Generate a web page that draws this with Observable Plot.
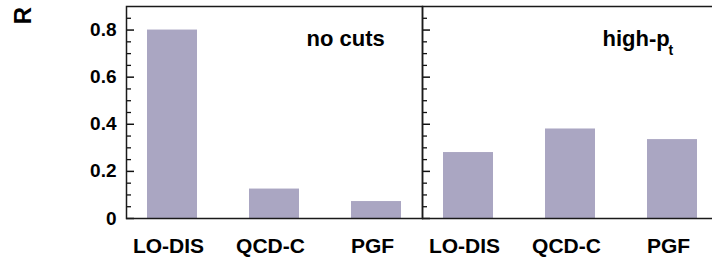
<!DOCTYPE html>
<html>
<head>
<meta charset="utf-8">
<script src="https://cdn.jsdelivr.net/npm/d3@7"></script>
<script src="https://cdn.jsdelivr.net/npm/@observablehq/plot@0.6"></script>
<style>
  html, body { margin: 0; padding: 0; background: #fff; overflow: hidden; }
  #wrap { width: 712px; height: 258px; overflow: hidden; }
  #wrap svg { max-width: none !important; }
</style>
</head>
<body>
<div id="wrap"></div>
<script>
const panels = ["no cuts", "high-pt"];
const processes = ["LO-DIS", "QCD-C", "PGF"];
const rNoCuts = [0.80, 0.125, 0.072];
const rHighPt = [0.28, 0.38, 0.335];
const panelTitles = ["no cuts", "high-p"];
const panelSubscripts = ["", "t"];
const yMajorTicks = [0, 0.2, 0.4, 0.6, 0.8];
const yMinorTicks = [0.05, 0.1, 0.15, 0.25, 0.3, 0.35, 0.45, 0.5, 0.55, 0.65, 0.7, 0.75, 0.85];
const yLabel = "R";

const bars = [];
processes.forEach((p, i) => bars.push({panel: panels[0], process: p, R: rNoCuts[i]}));
processes.forEach((p, i) => bars.push({panel: panels[1], process: p, R: rHighPt[i]}));
const titles = panels.map((p, i) => ({panel: p, title: panelTitles[i], sub: panelSubscripts[i]}));

const font = "'Liberation Sans', Arial, Helvetica, sans-serif";
const facetW = 296;

const chart = Plot.plot({
  width: 718,
  height: 258,
  marginLeft: 126,
  marginRight: 0,
  marginTop: 6,
  marginBottom: 40,
  style: {fontFamily: font, fontWeight: "bold", background: "#fff", color: "#000", maxWidth: "none"},
  fx: {domain: panels, padding: 0, axis: null, label: null},
  x: {domain: processes, paddingInner: 0.51, paddingOuter: 0.2, axis: null, label: null},
  y: {domain: [0, 0.9], axis: null, label: null},
  marks: [
    Plot.barY(bars, {fx: "panel", x: "process", y: "R", fill: "#aaa6c2"}),
    Plot.tickY(yMajorTicks, {y: d => d, insetRight: facetW - 8, stroke: "#111", strokeWidth: 1.5}),
    Plot.tickY(yMinorTicks, {y: d => d, insetRight: facetW - 5, stroke: "#111", strokeWidth: 1.3}),
    Plot.frame({stroke: "#1a1a1a", strokeWidth: 1.5}),
    Plot.axisY({ticks: yMajorTicks, tickSize: 0, tickPadding: 10, tickFormat: d => String(d), label: null, fontSize: 19, fontWeight: "bold"}),
    Plot.axisX({tickSize: 0, tickPadding: 20, label: null, fontSize: 21, fontWeight: "bold", dx: -4}),
    Plot.text(titles, {fx: "panel", text: "title", frameAnchor: "top-left", textAnchor: "start", lineAnchor: "middle", dx: 180, dy: 32, fontSize: 22, fontWeight: "bold"}),
    Plot.text(titles, {fx: "panel", text: "sub", frameAnchor: "top-left", textAnchor: "start", lineAnchor: "middle", dx: 246, dy: 44, fontSize: 14, fontWeight: "bold"}),
    Plot.text([{panel: panels[0], t: yLabel}], {fx: "panel", text: "t", frameAnchor: "top-left", textAnchor: "middle", lineAnchor: "middle", rotate: -90, dx: -103, dy: 9, fontSize: 24, fontWeight: "bold"})
  ]
});
chart.style.maxWidth = "none";
document.getElementById("wrap").appendChild(chart);
</script>
</body>
</html>
